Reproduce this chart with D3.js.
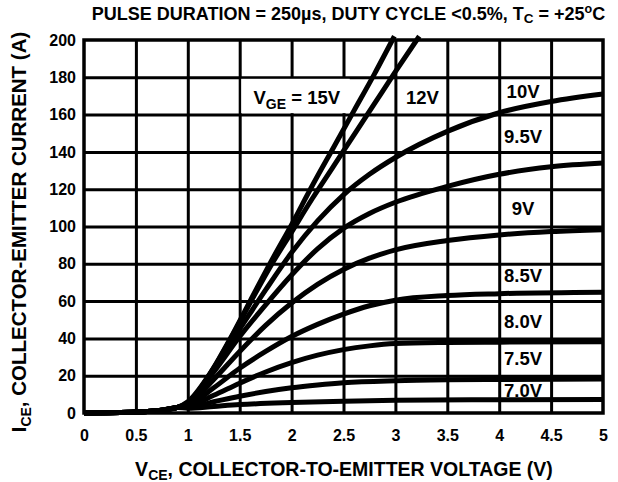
<!DOCTYPE html>
<html>
<head>
<meta charset="utf-8">
<script src="https://cdn.jsdelivr.net/npm/d3@7"></script>
<style>
  body { margin: 0; background: #fff; }
  svg { display: block; font-family: "Liberation Sans", Arial, sans-serif; font-weight: bold; }
  .tick-label { font-size: 16px; }
  .curve-label { font-size: 18.5px; }
</style>
</head>
<body>
<div id="chart"></div>
<script>
const WIDTH = 618, HEIGHT = 482;
const M = { top: 40, right: 15, bottom: 69, left: 84 };
const innerW = WIDTH - M.left - M.right;
const innerH = HEIGHT - M.top - M.bottom;

// tick values / labels
const xTicks = [0, 0.5, 1, 1.5, 2, 2.5, 3, 3.5, 4, 4.5, 5];
const xTickLabels = ["0", "0.5", "1", "1.5", "2", "2.5", "3", "3.5", "4", "4.5", "5"];
const yTicks = [0, 20, 40, 60, 80, 100, 120, 140, 160, 180, 200];

// curves, [VCE (V), ICE (A)]
const tail = [[0, 0], [0.5, 0.5], [0.75, 1.5], [0.9, 3]];
const vge15 = tail.concat([[1.0, 6], [1.2, 20], [1.4, 39], [1.6, 60], [1.8, 81], [2.0, 101], [2.2, 122], [2.4, 142], [2.6, 162], [2.8, 182], [2.99, 202]]);
const vge12 = tail.concat([[1.0, 5.5], [1.2, 19.5], [1.4, 38.5], [1.6, 59], [1.8, 79], [2.0, 97], [2.2, 115], [2.4, 132], [2.6, 149], [2.8, 166], [3.0, 183], [3.23, 202]]);
const vge10 = tail.concat([[1.0, 5], [1.25, 24], [1.5, 45], [1.75, 66], [2.0, 86], [2.25, 103], [2.5, 117], [2.75, 128], [3.0, 137], [3.5, 151], [4.0, 161], [4.5, 167], [5.0, 171]]);
const vge95 = tail.concat([[1.0, 5], [1.25, 22], [1.5, 41], [1.75, 58], [2.0, 74], [2.25, 88], [2.5, 99], [2.75, 107], [3.0, 113], [3.5, 121.5], [4.0, 128], [4.5, 132], [5.0, 134]]);
const vge9 = tail.concat([[1.0, 4.5], [1.25, 18], [1.5, 33], [1.75, 47], [2.0, 59], [2.25, 69], [2.5, 77], [2.75, 83], [3.0, 87.5], [3.5, 92.5], [4.0, 95.5], [4.5, 97.3], [5.0, 98.3]]);
const vge85 = tail.concat([[1.0, 4], [1.25, 13.5], [1.5, 24], [1.75, 33], [2.0, 41], [2.25, 47.5], [2.5, 53], [2.75, 57.5], [3.0, 60.5], [3.5, 63], [4.0, 64], [5.0, 64.8]]);
const vge8 = tail.concat([[1.0, 3.5], [1.25, 9.5], [1.5, 16], [1.75, 22], [2.0, 27], [2.25, 31], [2.5, 34], [2.75, 36], [3.0, 37.2], [3.5, 37.8], [4.0, 38], [5.0, 38.2]]);
const vge75 = tail.concat([[1.0, 3], [1.25, 6], [1.5, 9], [1.75, 11.5], [2.0, 13.5], [2.25, 15], [2.5, 16.2], [3.0, 17.3], [3.5, 17.8], [4.0, 18], [5.0, 18.2]]);
const vge7 = tail.concat([[1.0, 2.5], [1.25, 3.5], [1.5, 4.5], [2.0, 5.6], [2.5, 6.3], [3.0, 6.8], [4.0, 7.1], [5.0, 7.3]]);

const curves = [vge15, vge12, vge10, vge95, vge9, vge85, vge8, vge75, vge7];

const x = d3.scaleLinear().domain([0, 5]).range([0, innerW]);
const y = d3.scaleLinear().domain([0, 200]).range([innerH, 0]);

const svg = d3.select("#chart").append("svg")
  .attr("width", WIDTH).attr("height", HEIGHT);

const g = svg.append("g").attr("transform", `translate(${M.left},${M.top})`);

// gridlines
g.append("g").attr("class", "grid")
  .call(d3.axisBottom(x).tickValues(xTicks.slice(1, -1)).tickSize(-innerH).tickFormat(""))
  .attr("transform", `translate(0,${innerH})`)
  .call(a => a.select(".domain").remove())
  .call(a => a.selectAll("line").attr("stroke", "#000").attr("stroke-width", 3));
g.append("g").attr("class", "grid")
  .call(d3.axisLeft(y).tickValues(yTicks.slice(1, -1)).tickSize(-innerW).tickFormat(""))
  .call(a => a.select(".domain").remove())
  .call(a => a.selectAll("line").attr("stroke", "#000").attr("stroke-width", 3));

// white box behind the V_GE = 15V label
g.append("rect")
  .attr("x", x(1.5) + 1.5).attr("y", y(180) + 1.5)
  .attr("width", x(2.56) - x(1.5) - 1.5).attr("height", y(160) - y(180) - 3)
  .attr("fill", "#fff");

// frame
g.append("rect")
  .attr("x", 0).attr("y", 0).attr("width", innerW).attr("height", innerH)
  .attr("fill", "none").attr("stroke", "#000").attr("stroke-width", 3.5);

// tick labels
g.append("g")
  .attr("transform", `translate(0,${innerH})`)
  .call(d3.axisBottom(x).tickValues(xTicks).tickSize(0).tickPadding(17).tickFormat((d, i) => xTickLabels[i]))
  .call(a => a.select(".domain").remove())
  .call(a => a.selectAll("text").attr("class", "tick-label").attr("font-family", null).attr("font-size", null).attr("fill", "#000"));
g.append("g")
  .call(d3.axisLeft(y).tickValues(yTicks).tickSize(0).tickPadding(8))
  .call(a => a.select(".domain").remove())
  .call(a => a.selectAll("text").attr("class", "tick-label").attr("font-family", null).attr("font-size", null).attr("fill", "#000"));

// curves
const line = d3.line().x(d => x(d[0])).y(d => y(d[1])).curve(d3.curveMonotoneX);
g.selectAll(".curve").data(curves).join("path")
  .attr("class", "curve")
  .attr("d", line)
  .attr("fill", "none").attr("stroke", "#000").attr("stroke-width", 5);

// curve labels
const labels = [
  { v: 3.26, i: 165.5, t: "12V" },
  { v: 4.23, i: 169, t: "10V" },
  { v: 4.23, i: 145, t: "9.5V" },
  { v: 4.23, i: 106, t: "9V" },
  { v: 4.23, i: 70, t: "8.5V" },
  { v: 4.23, i: 45.6, t: "8.0V" },
  { v: 4.23, i: 25.7, t: "7.5V" },
  { v: 4.23, i: 8.6, t: "7.0V" }
];
g.selectAll(".curve-label").data(labels).join("text")
  .attr("class", "curve-label")
  .attr("x", d => x(d.v)).attr("y", d => y(d.i))
  .attr("text-anchor", "middle")
  .text(d => d.t);

const lbl15 = g.append("text").attr("class", "curve-label")
  .attr("x", x(2.05)).attr("y", y(165.5)).attr("text-anchor", "middle").attr("font-size", 19);
lbl15.append("tspan").text("V");
lbl15.append("tspan").attr("font-size", 14).attr("dy", 5).text("GE");
lbl15.append("tspan").attr("dy", -5).text(" = 15V");

// title
const title = svg.append("text")
  .attr("x", 348.5).attr("y", 20).attr("text-anchor", "middle").attr("font-size", 18);
title.append("tspan").text("PULSE DURATION = 250\u00b5s, DUTY CYCLE <0.5%, T");
title.append("tspan").attr("font-size", 13.5).attr("dy", 3).text("C");
title.append("tspan").attr("dy", -3).text(" = +25");
title.append("tspan").attr("font-size", 12.5).attr("dy", -7).text("o");
title.append("tspan").attr("dy", 7).text("C");

// x label
const xl = svg.append("text")
  .attr("x", 344).attr("y", 476).attr("text-anchor", "middle").attr("font-size", 19.5);
xl.append("tspan").text("V");
xl.append("tspan").attr("font-size", 14).attr("dy", 4).text("CE");
xl.append("tspan").attr("dy", -4).text(", COLLECTOR-TO-EMITTER VOLTAGE (V)");

// y label
const yl = svg.append("text")
  .attr("transform", "translate(26,232) rotate(-90)")
  .attr("text-anchor", "middle").attr("font-size", 20.5);
yl.append("tspan").text("I");
yl.append("tspan").attr("font-size", 14).attr("dy", 5).text("CE");
yl.append("tspan").attr("dy", -5).text(", COLLECTOR-EMITTER CURRENT (A)");
</script>
</body>
</html>
